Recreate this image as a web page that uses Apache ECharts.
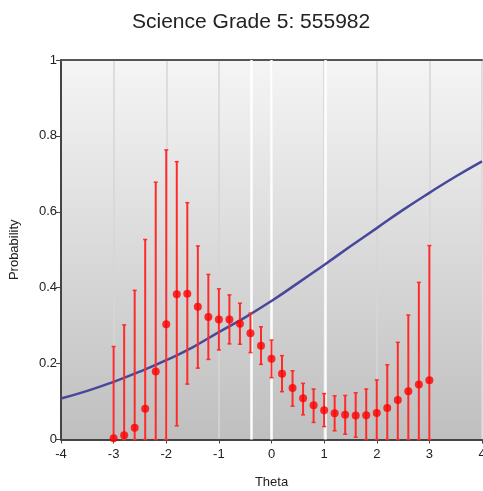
<!DOCTYPE html>
<html>
<head>
<meta charset="utf-8">
<script src="https://cdn.jsdelivr.net/npm/echarts@6/dist/echarts.min.js"></script>
<style>html,body{margin:0;padding:0;background:#fff}#c{width:483px;height:491px}</style>
</head>
<body>
<div id="c"></div>
<script>
var titleText = 'Science Grade 5: 555982';
var thetas = [-3, -2.8, -2.6, -2.4, -2.2, -2.0, -1.8, -1.6, -1.4, -1.2, -1.0, -0.8, -0.6, -0.4, -0.2, 0, 0.2, 0.4, 0.6, 0.8, 1.0, 1.2, 1.4, 1.6, 1.8, 2.0, 2.2, 2.4, 2.6, 2.8, 3.0];
var observed = [0.003, 0.011, 0.031, 0.081, 0.179, 0.304, 0.383, 0.384, 0.350, 0.323, 0.316, 0.316, 0.305, 0.280, 0.247, 0.213, 0.173, 0.136, 0.109, 0.090, 0.077, 0.069, 0.065, 0.063, 0.064, 0.070, 0.083, 0.104, 0.127, 0.145, 0.156];
var upper = [0.245, 0.302, 0.393, 0.527, 0.678, 0.763, 0.732, 0.624, 0.510, 0.435, 0.397, 0.381, 0.359, 0.333, 0.297, 0.262, 0.221, 0.181, 0.148, 0.133, 0.121, 0.115, 0.116, 0.123, 0.133, 0.157, 0.197, 0.256, 0.328, 0.414, 0.511];
var lower = [0, 0, 0, 0, 0, 0, 0.036, 0.146, 0.188, 0.211, 0.236, 0.252, 0.251, 0.229, 0.198, 0.163, 0.126, 0.088, 0.065, 0.045, 0.034, 0.023, 0.014, 0.006, 0, 0, 0, 0, 0, 0, 0];
var curveX = [-4, -3.5, -3, -2.5, -2, -1.5, -1, -0.5, 0, 0.5, 1, 1.5, 2, 2.5, 3, 3.5, 4];
var curveP = [0.108, 0.128, 0.152, 0.179, 0.209, 0.243, 0.283, 0.322, 0.365, 0.412, 0.460, 0.509, 0.557, 0.605, 0.650, 0.693, 0.733];
var cutScores = [-0.38, 0, 1.02];
var xTicks = [-4, -3, -2, -1, 0, 1, 2, 3, 4];
var yTicks = [0, 0.2, 0.4, 0.6, 0.8, 1];

var chart = echarts.init(document.getElementById('c'), null, {renderer: 'canvas'});
var txt = '#222';
var font = 'Liberation Sans';

var barData = thetas.map(function (t, i) { return [t, lower[i], upper[i]]; });
var dotData = thetas.map(function (t, i) { return [t, observed[i]]; });
var curveData = curveX.map(function (t, i) { return [t, curveP[i]]; });

chart.setOption({
  animation: false,
  title: {
    text: titleText, left: 127, top: 7,
    textStyle: {fontFamily: font, fontSize: 21, fontWeight: 'normal', color: txt}
  },
  grid: {
    left: 61, top: 60, right: 1, bottom: 51.5, show: true, borderWidth: 0,
    outerBoundsMode: 'none', containLabel: false,
    backgroundColor: {type: 'linear', x: 0, y: 0, x2: 0, y2: 1,
      colorStops: [{offset: 0, color: '#f5f5f5'}, {offset: 1, color: '#bfbfbf'}]}
  },
  xAxis: [{
    type: 'value', min: xTicks[0], max: xTicks[xTicks.length - 1], interval: 1,
    name: 'Theta', nameLocation: 'middle', nameGap: 36,
    nameTextStyle: {fontFamily: font, fontSize: 13, color: txt},
    axisLine: {show: true, onZero: false, lineStyle: {color: '#444', width: 2}},
    axisTick: {show: true, length: 4, lineStyle: {color: '#444', width: 1}},
    axisLabel: {fontFamily: font, fontSize: 13, color: txt, margin: 8},
    splitLine: {show: true, lineStyle: {color: '#d6d6d6', width: 1.5}}
  }, {
    type: 'value', position: 'top', min: -4, max: 4,
    axisLine: {show: true, onZero: false, lineStyle: {color: '#555', width: 2}},
    axisTick: {show: false}, axisLabel: {show: false}, splitLine: {show: false}
  }],
  yAxis: {
    type: 'value', min: yTicks[0], max: yTicks[yTicks.length - 1], interval: 0.2,
    name: 'Probability', nameLocation: 'middle', nameGap: 40,
    nameTextStyle: {fontFamily: font, fontSize: 13, color: txt},
    axisLine: {show: true, onZero: false, lineStyle: {color: '#444', width: 2}},
    axisTick: {show: true, length: 5, lineStyle: {color: '#444', width: 1}},
    axisLabel: {fontFamily: font, fontSize: 13, color: txt, margin: 4},
    splitLine: {show: false}
  },
  series: [{
    type: 'line', data: [], z: 1, silent: true,
    markLine: {
      silent: true, symbol: 'none', label: {show: false}, z: 1,
      lineStyle: {color: '#ffffff', width: 2.5, type: 'solid', opacity: 0.95},
      emphasis: {disabled: true},
      data: cutScores.map(function (c) { return {xAxis: c}; })
    }
  }, {
    type: 'line', data: curveData, smooth: true, showSymbol: false, z: 3,
    lineStyle: {color: '#48489a', width: 2.5}
  }, {
    type: 'custom', data: barData, z: 4,
    encode: {x: 0, y: [1, 2]},
    renderItem: function (params, api) {
      var x = api.value(0);
      var top = api.coord([x, api.value(2)]);
      var bot = api.coord([x, api.value(1)]);
      var cap = 2;
      var st = {stroke: '#ff2a2a', lineWidth: 2};
      var st2 = {stroke: '#ff2a2a', lineWidth: 1.5};
      return {type: 'group', children: [
        {type: 'line', shape: {x1: top[0], y1: top[1], x2: bot[0], y2: bot[1]}, style: st},
        {type: 'line', shape: {x1: top[0] - cap, y1: top[1], x2: top[0] + cap, y2: top[1]}, style: st2},
        {type: 'line', shape: {x1: bot[0] - cap, y1: bot[1], x2: bot[0] + cap, y2: bot[1]}, style: st2}
      ]};
    }
  }, {
    type: 'scatter', data: dotData, z: 5, symbol: 'circle', symbolSize: 8,
    itemStyle: {color: '#ff0000'}
  }]
});
</script>
</body>
</html>
